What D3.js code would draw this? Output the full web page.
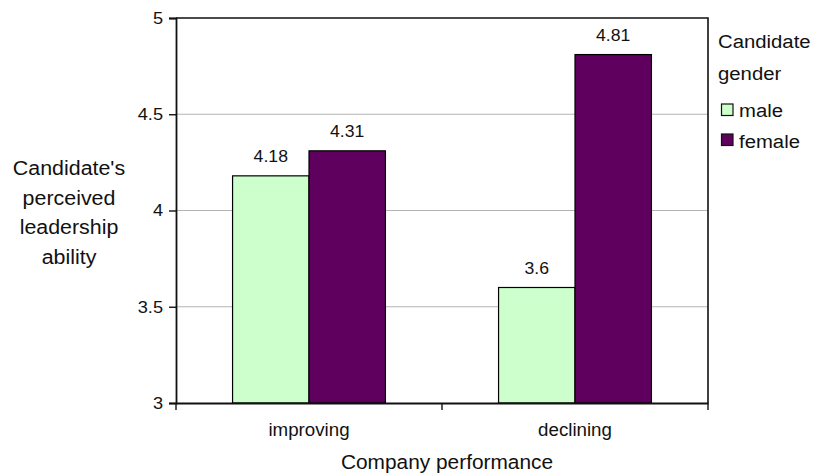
<!DOCTYPE html>
<html><head><meta charset="utf-8">
<script src="https://cdn.jsdelivr.net/npm/d3@7"></script>
<style>body{margin:0;background:#fff;} svg{display:block;font-family:"Liberation Sans",Arial,sans-serif;}</style>
</head><body>
<svg id="chart" width="817" height="474"></svg>
<script>
const categories = ["improving", "declining"];
const seriesNames = ["male", "female"];
const maleValues = [4.18, 3.6];
const femaleValues = [4.31, 4.81];
const yTicks = [3, 3.5, 4, 4.5, 5];
const yTickLabels = ["3", "3.5", "4", "4.5", "5"];
const colors = {male: "#ccffcc", female: "#5f005f"};

const svg = d3.select("#chart");
const pLeft = 176, pRight = 708, pTop = 18, pBottom = 403;
const sx = 1.07; // slight horizontal widening of the reference lettering
const x = d3.scaleBand().domain(categories).range([pLeft, pRight]).paddingInner(0).paddingOuter(0);
const x1 = d3.scaleBand().domain(seriesNames).range([0, x.bandwidth()]).paddingInner(0).paddingOuter(0.74);
const y = d3.scaleLinear().domain([3, 5]).range([pBottom, pTop]);

function label(parent, tx, ty, txt, size, anchor) {
  return parent.append("text")
    .attr("transform", `translate(${tx},${ty}) scale(${sx},1)`)
    .attr("text-anchor", anchor || "start")
    .attr("font-size", size).attr("fill", "#111").text(txt);
}

// gridlines
svg.append("g").selectAll("line").data(yTicks.filter(t => t > 3 && t < 5)).join("line")
  .attr("x1", pLeft).attr("x2", pRight).attr("y1", d => y(d)).attr("y2", d => y(d))
  .attr("stroke", "#b4b4b4").attr("stroke-width", 1.2);

// bars
const series = [maleValues, femaleValues];
const g = svg.append("g");
categories.forEach((c, i) => {
  seriesNames.forEach((s, j) => {
    const v = series[j][i];
    g.append("rect")
      .attr("x", x(c) + x1(s)).attr("y", y(v))
      .attr("width", x1.bandwidth()).attr("height", y(3) - y(v))
      .attr("fill", colors[s]).attr("stroke", "#000").attr("stroke-width", 1.2);
    label(g, x(c) + x1(s) + x1.bandwidth() / 2, y(v) - 14, String(v), 16.5, "middle");
  });
});

// top and right border
svg.append("path").attr("d", `M${pLeft},${pTop}H${pRight}V${pBottom}`)
  .attr("fill", "none").attr("stroke", "#111").attr("stroke-width", 1.6);

// y axis
const yAxis = d3.axisLeft(y).tickValues(yTicks).tickFormat((d, i) => yTickLabels[i]).tickSize(7).tickPadding(6);
const ya = svg.append("g").attr("transform", `translate(${pLeft},0)`).call(yAxis);
ya.select(".domain").attr("stroke", "#111").attr("stroke-width", 1.8);
ya.selectAll(".tick line").attr("stroke", "#111").attr("stroke-width", 1.4);
ya.selectAll("text").attr("font-size", 17).attr("fill", "#111")
  .attr("font-family", "Liberation Sans, Arial, sans-serif")
  .attr("transform", `translate(-13,0) scale(${sx},1)`).attr("x", 0);

// x axis
const xa = svg.append("g").attr("transform", `translate(0,${pBottom})`)
  .call(d3.axisBottom(x).tickSize(0).tickPadding(0).tickFormat(""));
xa.select(".domain").attr("stroke", "#111").attr("stroke-width", 1.8);
xa.selectAll(".tick").remove();
xa.selectAll(".sep").data([pLeft, x("declining"), pRight]).join("line").attr("class", "sep")
  .attr("x1", d => d).attr("x2", d => d).attr("y1", 0).attr("y2", 7)
  .attr("stroke", "#111").attr("stroke-width", 1.4);
const xl = svg.append("g");
categories.forEach(c => label(xl, x(c) + x.bandwidth() / 2, 436, c, 17.5, "middle"));

// axis titles
label(svg, 447, 469, "Company performance", 19.5, "middle");
const yTitle = ["Candidate's", "perceived", "leadership", "ability"];
const yt = svg.append("g");
yTitle.forEach((t, i) => label(yt, 69, 175 + i * 29.5, t, 20, "middle"));

// legend
const lg = svg.append("g");
label(lg, 718, 48, "Candidate", 19, "start");
label(lg, 718, 80, "gender", 19, "start");
seriesNames.forEach((s, i) => {
  lg.append("rect").attr("x", 721.5).attr("y", 104 + i * 30).attr("width", 11.5).attr("height", 11.5)
    .attr("fill", colors[s]).attr("stroke", "#111").attr("stroke-width", 1.2);
  label(lg, 739, 117 + i * 31, s, 19, "start");
});
</script>
</body></html>
